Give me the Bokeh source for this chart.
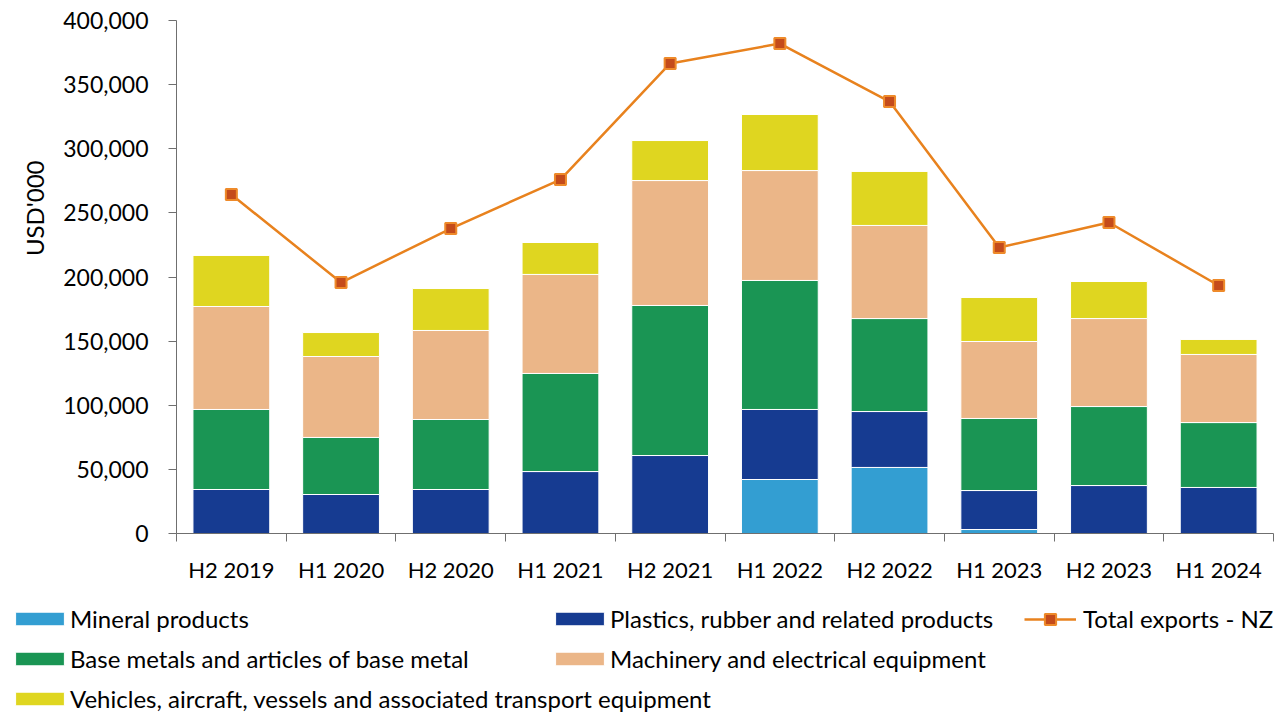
import numpy as np
from bokeh.plotting import figure
from bokeh.layouts import column
from bokeh.models import (ColumnDataSource, FixedTicker, Legend, LegendItem,
                          NumeralTickFormatter, Range1d, Title)
from bokeh.embed import file_html
from bokeh.resources import INLINE

periods = ["H2 2019", "H1 2020", "H2 2020", "H1 2021", "H2 2021",
           "H1 2022", "H2 2022", "H1 2023", "H2 2023", "H1 2024"]
mineral = [0, 0, 0, 0, 0, 42100, 51500, 3100, 0, 0]
plastics = [34300, 30400, 34300, 48300, 60800, 54600, 43600, 30400, 37400, 35900]
base_metals = [62400, 44500, 54600, 76500, 117000, 100600, 72500, 56200, 61600, 50600]
machinery = [80300, 63100, 69400, 77200, 97400, 85700, 72600, 60000, 68600, 53100]
vehicles = [39800, 18700, 32700, 24900, 31200, 43700, 42100, 34300, 28900, 11700]
total_exports = [264300, 195700, 237800, 276000, 366500, 382000, 336800, 223000, 242500, 193400]

series_names = ["Mineral products", "Plastics, rubber and related products",
                "Base metals and articles of base metal",
                "Machinery and electrical equipment",
                "Vehicles, aircraft, vessels and associated transport equipment"]
line_name = "Total exports - NZ"
keys = ["mineral", "plastics", "base", "mach", "veh"]
colors = ["#339ed2", "#163b91", "#1a9554", "#ebb688", "#dfd620"]
LINE_C = "#e8821e"
MARK_FILL = "#c44b1b"
MARK_LINE = "#ee8a2a"
AXIS_C = "#6f6f6f"

FONT = "Lato"
x = list(range(len(periods)))
src = ColumnDataSource(dict(x=x, mineral=mineral, plastics=plastics, base=base_metals,
                            mach=machinery, veh=vehicles, total=total_exports))

p = figure(width=1277, height=588, output_backend="svg", toolbar_location=None,
           x_range=Range1d(-0.5, len(periods) - 0.5), y_range=Range1d(0, 400000),
           min_border_left=176, min_border_right=4, min_border_top=20,
           min_border_bottom=55)
p.frame_align = False
p.xgrid.visible = False
p.ygrid.visible = False
p.outline_line_color = None

bars = p.vbar_stack(keys, x="x", width=0.7, source=src, fill_color=colors,
                    line_color="white", line_width=1)
p.line("x", "total", source=src, line_color=LINE_C, line_width=2.5)
p.scatter("x", "total", source=src, marker="square", size=11,
          fill_color=MARK_FILL, line_color=MARK_LINE, line_width=2)

# axes
p.yaxis.ticker = FixedTicker(ticks=list(range(0, 400001, 50000)))
p.yaxis.formatter = NumeralTickFormatter(format="0,0")
p.yaxis.minor_tick_line_color = None
p.yaxis.major_tick_in = 0
p.yaxis.major_tick_out = 8
p.yaxis.axis_line_color = AXIS_C
p.yaxis.major_tick_line_color = AXIS_C
p.yaxis.major_label_standoff = 20
p.yaxis.major_label_text_font = FONT
p.yaxis.major_label_text_font_size = "23px"
p.yaxis.major_label_text_color = "#000000"

p.xaxis.ticker = FixedTicker(ticks=x, minor_ticks=[i - 0.5 for i in range(len(periods) + 1)])
p.xaxis.major_label_overrides = {i: lab for i, lab in enumerate(periods)}
p.xaxis.major_tick_line_color = None
p.xaxis.major_tick_in = 0
p.xaxis.major_tick_out = 8
p.xaxis.minor_tick_in = 0
p.xaxis.minor_tick_out = 8
p.xaxis.minor_tick_line_color = AXIS_C
p.xaxis.axis_line_color = AXIS_C
p.xaxis.major_label_standoff = 14
p.xaxis.major_label_text_font = FONT
p.xaxis.major_label_text_font_size = "22px"
p.xaxis.major_label_text_color = "#000000"

ytitle = Title(text="USD'000", align="right", offset=140, text_font=FONT,
               text_font_size="24px", text_font_style="normal", text_color="#000000",
               standoff=24)
p.add_layout(ytitle, "left")

# legend panel below the chart (its renderers sit outside its visible ranges)
lf = figure(width=1277, height=125, output_backend="svg", toolbar_location=None,
            x_range=Range1d(-30, -20), y_range=Range1d(-900000, -800000),
            x_axis_location=None, y_axis_location=None, min_border=0,
            min_border_left=0, min_border_right=0, min_border_top=0, min_border_bottom=0)
lf.frame_align = False
lf.xgrid.visible = False
lf.ygrid.visible = False
lf.outline_line_color = None
lbars = lf.vbar_stack(keys, x="x", width=0.7, source=src, fill_color=colors,
                      line_color="white", line_width=1)
lline = lf.line("x", "total", source=src, line_color=LINE_C, line_width=2.5)
lpts = lf.scatter("x", "total", source=src, marker="square", size=11,
                  fill_color=MARK_FILL, line_color=MARK_LINE, line_width=2)

def make_legend(items, loc, gw=61, gh=17, standoff=0):
    lg = Legend(items=items, location=loc, orientation="vertical",
                glyph_width=gw, glyph_height=gh, label_height=24, spacing=11,
                label_standoff=standoff, padding=0, margin=0, border_line_color=None,
                background_fill_alpha=0, label_text_font=FONT,
                label_text_font_size="24px", label_text_color="#000000")
    lf.add_layout(lg)

make_legend([LegendItem(label=series_names[0], renderers=[lbars[0]]),
             LegendItem(label=series_names[2], renderers=[lbars[2]]),
             LegendItem(label=series_names[4], renderers=[lbars[4]])], (9, 0))
make_legend([LegendItem(label=series_names[1], renderers=[lbars[1]]),
             LegendItem(label=series_names[3], renderers=[lbars[3]])], (549, 40))
make_legend([LegendItem(label=line_name, renderers=[lline, lpts])], (1024, 80),
            gw=52, gh=28, standoff=7)

layout = column(p, lf, spacing=0)
open("out.html", "w").write(file_html(layout, INLINE))
